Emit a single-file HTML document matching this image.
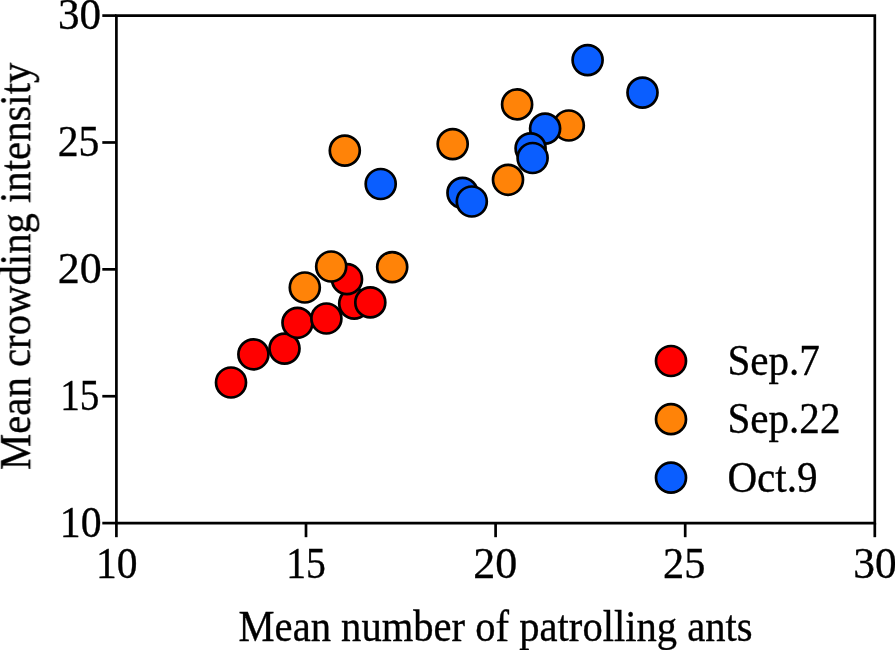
<!DOCTYPE html>
<html><head><meta charset="utf-8"><style>
html,body{margin:0;padding:0;background:#fff;overflow:hidden}
svg{display:block}
text{font-family:"Liberation Serif",serif;fill:#000;stroke:#000;stroke-width:0.35px}
.t{filter:grayscale(1)}
</style></head><body>
<svg width="895" height="650" viewBox="0 0 895 650">
<rect x="0" y="0" width="895" height="650" fill="#fff"/>
<g stroke="#000" stroke-width="2.7" fill="none" stroke-linecap="butt">
<path d="M116.4,15.6H874.8V523.1H116.4Z"/>
<path d="M102.3,523.10H116.4"/>
<path d="M116.40,523.1V537.2"/>
<path d="M102.3,396.23H116.4"/>
<path d="M306.00,523.1V537.2"/>
<path d="M102.3,269.35H116.4"/>
<path d="M495.60,523.1V537.2"/>
<path d="M102.3,142.48H116.4"/>
<path d="M685.20,523.1V537.2"/>
<path d="M102.3,15.60H116.4"/>
<path d="M874.80,523.1V537.2"/>
</g>
<circle cx="231.0" cy="382.5" r="15.0" fill="#ff0000" stroke="#000" stroke-width="2.7"/>
<circle cx="253.4" cy="354.3" r="15.0" fill="#ff0000" stroke="#000" stroke-width="2.7"/>
<circle cx="284.5" cy="348.6" r="15.0" fill="#ff0000" stroke="#000" stroke-width="2.7"/>
<circle cx="297.5" cy="322.8" r="15.0" fill="#ff0000" stroke="#000" stroke-width="2.7"/>
<circle cx="326.4" cy="318.5" r="15.0" fill="#ff0000" stroke="#000" stroke-width="2.7"/>
<circle cx="354.2" cy="303.6" r="15.0" fill="#ff0000" stroke="#000" stroke-width="2.7"/>
<circle cx="347.0" cy="279.2" r="15.0" fill="#ff0000" stroke="#000" stroke-width="2.7"/>
<circle cx="370.3" cy="302.4" r="15.0" fill="#ff0000" stroke="#000" stroke-width="2.7"/>
<circle cx="304.8" cy="287.5" r="15.0" fill="#ff8308" stroke="#000" stroke-width="2.7"/>
<circle cx="331.2" cy="266.5" r="15.0" fill="#ff8308" stroke="#000" stroke-width="2.7"/>
<circle cx="392.2" cy="267.1" r="15.0" fill="#ff8308" stroke="#000" stroke-width="2.7"/>
<circle cx="344.8" cy="150.6" r="15.0" fill="#ff8308" stroke="#000" stroke-width="2.7"/>
<circle cx="452.7" cy="144.1" r="15.0" fill="#ff8308" stroke="#000" stroke-width="2.7"/>
<circle cx="508.0" cy="179.8" r="15.0" fill="#ff8308" stroke="#000" stroke-width="2.7"/>
<circle cx="517.1" cy="104.4" r="15.0" fill="#ff8308" stroke="#000" stroke-width="2.7"/>
<circle cx="568.8" cy="125.5" r="15.0" fill="#ff8308" stroke="#000" stroke-width="2.7"/>
<circle cx="380.7" cy="184.0" r="15.0" fill="#0a5eff" stroke="#000" stroke-width="2.7"/>
<circle cx="462.5" cy="192.9" r="15.0" fill="#0a5eff" stroke="#000" stroke-width="2.7"/>
<circle cx="471.8" cy="201.5" r="15.0" fill="#0a5eff" stroke="#000" stroke-width="2.7"/>
<circle cx="545.1" cy="128.6" r="15.0" fill="#0a5eff" stroke="#000" stroke-width="2.7"/>
<circle cx="530.6" cy="148.3" r="15.0" fill="#0a5eff" stroke="#000" stroke-width="2.7"/>
<circle cx="532.6" cy="158.0" r="15.0" fill="#0a5eff" stroke="#000" stroke-width="2.7"/>
<circle cx="587.6" cy="60.1" r="15.0" fill="#0a5eff" stroke="#000" stroke-width="2.7"/>
<circle cx="642.5" cy="92.6" r="15.0" fill="#0a5eff" stroke="#000" stroke-width="2.7"/>
<circle cx="671.0" cy="361.0" r="15.0" fill="#ff0000" stroke="#000" stroke-width="2.7"/>
<circle cx="671.0" cy="419.2" r="15.0" fill="#ff8308" stroke="#000" stroke-width="2.7"/>
<circle cx="671.0" cy="477.7" r="15.0" fill="#0a5eff" stroke="#000" stroke-width="2.7"/>
<g class="t">
<text transform="translate(101.55,537.0) scale(0.949,1)" font-size="44" text-anchor="end">10</text>
<text transform="translate(99.28,410.12) scale(0.89,1)" font-size="44" text-anchor="end">15</text>
<text transform="translate(101.63,283.25) scale(1.0,1)" font-size="44" text-anchor="end">20</text>
<text transform="translate(99.36,156.38) scale(0.948,1)" font-size="44" text-anchor="end">25</text>
<text transform="translate(101.1,28.9) scale(0.98,1)" font-size="44" text-anchor="end">30</text>
<text transform="translate(116.68,577.5) scale(0.944,1)" font-size="44" text-anchor="middle">10</text>
<text transform="translate(305.96,577.5) scale(0.901,1)" font-size="44" text-anchor="middle">15</text>
<text transform="translate(495.27,577.5) scale(1.0,1)" font-size="44" text-anchor="middle">20</text>
<text transform="translate(684.18,577.5) scale(0.962,1)" font-size="44" text-anchor="middle">25</text>
<text transform="translate(875.01,577.5) scale(0.987,1)" font-size="44" text-anchor="middle">30</text>
<text transform="translate(727.4,374.6) scale(0.935,1)" font-size="44" text-anchor="start">Sep.7</text>
<text transform="translate(727.4,432.9) scale(0.935,1)" font-size="44" text-anchor="start">Sep.22</text>
<text transform="translate(727.4,491.9) scale(0.935,1)" font-size="44" text-anchor="start">Oct.9</text>
<text transform="translate(495.6,640.5) scale(0.923,1)" font-size="44" text-anchor="middle">Mean number of patrolling ants</text>
<text font-size="44" text-anchor="middle" transform="translate(30.2,266.3) rotate(-90) scale(0.9263,1)">Mean crowding intensity</text>
</g>
</svg>
</body></html>
